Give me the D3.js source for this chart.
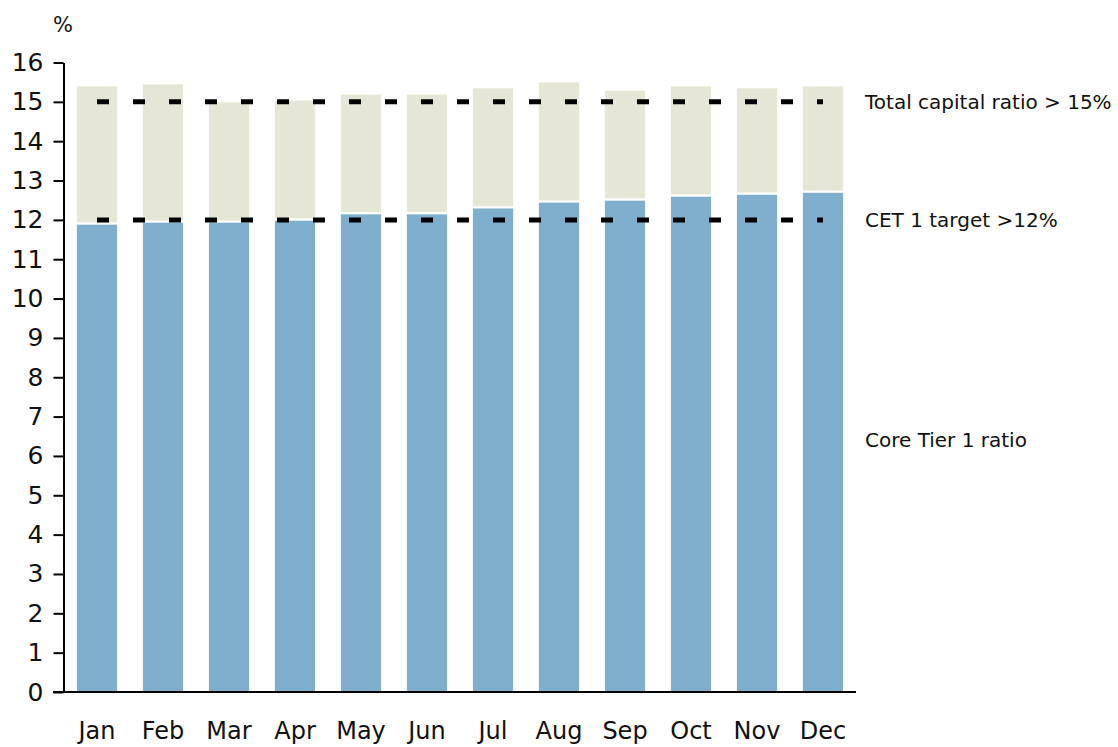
<!DOCTYPE html>
<html lang="en">
  <head>
    <meta charset="utf-8">
    <title>Capital ratios</title>
    <script src="https://d3js.org/d3.v7.min.js"></script>
    <style>
      body { margin: 0; background: white; }
      text { font-family: "DejaVu Sans", sans-serif; fill: #111; }
    </style>
  </head>
  <body>
    <svg width="1118" height="747"></svg>
    <script>
      // values, in %
      var months = ["Jan", "Feb", "Mar", "Apr", "May", "Jun", "Jul", "Aug", "Sep", "Oct", "Nov", "Dec"];
      var coreTier1 = [11.91, 11.96, 11.96, 12.01, 12.17, 12.17, 12.32, 12.47, 12.52, 12.62, 12.67, 12.72];
      var totalCapital = [15.42, 15.47, 15.01, 15.06, 15.21, 15.21, 15.37, 15.52, 15.31, 15.42, 15.37, 15.42];
      var targetValues = [15, 12];
      var targetLabels = ["Total capital ratio > 15%", "CET 1 target >12%"];
      var coreLabel = "Core Tier 1 ratio";
      var coreLabelAt = 6.4;
      var yTicks = d3.range(0, 17);

      var svg = d3.select("svg");
      var plotLeft = 64, plotRight = 856, plotTop = 62.5, plotBottom = 692;

      var x = d3.scaleBand().domain(months).range([plotLeft, plotRight])
        .paddingInner(0.36).paddingOuter(0.18);
      var y = d3.scaleLinear().domain([0, 16]).range([plotBottom, plotTop]);

      var rows = months.map(function(m, i) {
        return {month: m, core: coreTier1[i], total: totalCapital[i]};
      });

      var bars = svg.append("g");
      bars.selectAll(".core").data(rows).enter().append("rect")
        .attr("x", function(d) { return x(d.month); })
        .attr("width", x.bandwidth())
        .attr("y", function(d) { return y(d.core); })
        .attr("height", function(d) { return y(0) - y(d.core); })
        .attr("fill", "#7fafcc")
        .attr("stroke", "white").attr("stroke-width", 2);
      bars.selectAll(".rest").data(rows).enter().append("rect")
        .attr("x", function(d) { return x(d.month); })
        .attr("width", x.bandwidth())
        .attr("y", function(d) { return y(d.total); })
        .attr("height", function(d) { return y(d.core) - y(d.total); })
        .attr("fill", "#e6e6d6")
        .attr("stroke", "white").attr("stroke-width", 2);

      // dashed target lines from first to last bar centre
      var x0 = x(months[0]) + x.bandwidth() / 2;
      var x1 = x(months[months.length - 1]) + x.bandwidth() / 2;
      svg.append("g").selectAll("line").data(targetValues).enter().append("line")
        .attr("x1", x0).attr("x2", x1)
        .attr("y1", function(d) { return y(d); })
        .attr("y2", function(d) { return y(d); })
        .attr("stroke", "black").attr("stroke-width", 5)
        .attr("stroke-dasharray", "12,24");

      svg.append("g").selectAll("text").data(targetValues).enter().append("text")
        .attr("x", 865).attr("y", function(d) { return y(d); })
        .attr("dy", "0.35em").attr("font-size", 20)
        .text(function(d, i) { return targetLabels[i]; });
      svg.append("text").attr("x", 865).attr("y", y(coreLabelAt))
        .attr("dy", "0.35em").attr("font-size", 20).text(coreLabel);

      // y axis
      var yAxis = svg.append("g")
        .attr("transform", "translate(" + (plotLeft - 0.5) + ",0)")
        .call(d3.axisLeft(y).tickValues(yTicks).tickSize(10).tickSizeOuter(0).tickPadding(10));
      yAxis.selectAll("path, line").attr("stroke", "black").attr("stroke-width", 2);
      yAxis.selectAll("text").attr("font-size", 25).attr("font-family", "DejaVu Sans").attr("fill", "#111");

      svg.append("text").attr("x", plotLeft - 1).attr("y", 25).attr("dy", "0.35em")
        .attr("text-anchor", "middle").attr("font-size", 21).text("%");

      // x axis
      svg.append("line").attr("x1", 53).attr("x2", plotRight)
        .attr("y1", plotBottom).attr("y2", plotBottom)
        .attr("stroke", "black").attr("stroke-width", 2);
      svg.append("g").selectAll("text").data(months).enter().append("text")
        .attr("x", function(d) { return x(d) + x.bandwidth() / 2; })
        .attr("y", 739).attr("text-anchor", "middle").attr("font-size", 24)
        .text(function(d) { return d; });
    </script>
  </body>
</html>
